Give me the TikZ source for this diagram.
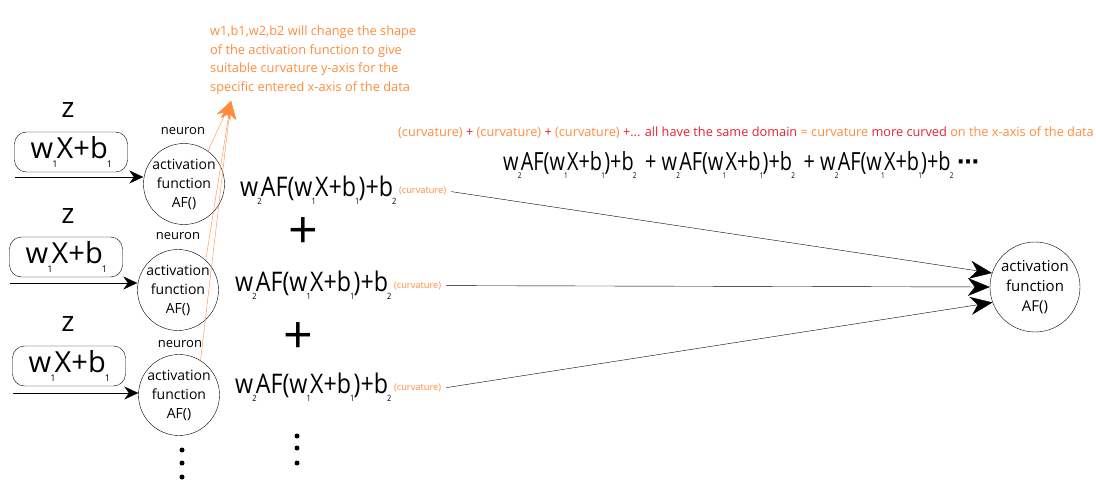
\documentclass[tikz,border=0pt]{standalone}
\usepackage{fontspec}
\usepackage{graphicx}
\setmainfont{Open Sans}
\newfontfamily\condfont[FakeStretch=0.795]{Open Sans}
\newfontfamily\midfont[FakeStretch=0.86]{Open Sans}
\newfontfamily\symf{DejaVu Sans}
\usetikzlibrary{arrows.meta}
\definecolor{orng}{RGB}{255,140,60}
\definecolor{rd}{RGB}{232,32,48}
\newcommand\lo[1]{\kern-0.03em\raisebox{-0.3em}{\scalebox{0.32}{#1}}\kern-0.03em}
\newcommand\myexpr{w\lo{2}AF(w\lo{1}X+b\lo{1})+b\lo{2}}
\newcommand\inexpr{w\lo{1}X+b\lo{1}}
\tikzset{
  fs/.style={font=\fontsize{#1}{#1}\selectfont},
  zlab/.style={fs=28, inner sep=0pt},
  inbox/.style={draw, rounded corners=12pt, minimum width=113pt, minimum height=40pt, inner sep=0pt, fs=29},
  neur/.style={draw, thin, circle, minimum size=80pt, inner sep=0pt, align=center, font=\fontsize{14}{19}\selectfont},
  nlab/.style={fs=13, inner sep=0pt},
  expr/.style={font=\fontsize{27}{27}\midfont, inner sep=0pt, anchor=west},
  curv/.style={fs=9.3, text=orng, inner sep=0pt, anchor=base west},
  inarrow/.style={-{Stealth[length=14pt,width=13pt]}, thin},
  outarrow/.style={-{Stealth[length=22pt,width=18pt,inset=7pt]}, thin},
  orarrow/.style={-{Stealth[length=18pt,width=15pt]}, orng, thin},
  bigplus/.style={fs=52, inner sep=0pt},
  dot/.style={fill, circle, inner sep=0pt, minimum size=5pt},
}
\begin{document}
\begin{tikzpicture}[x=1pt,y=-1pt]
\useasboundingbox (0,0) rectangle (1096,492);

% orange note
\node[anchor=north west, align=left, text=orng, font=\fontsize{12.8}{18.5}\selectfont, inner sep=0pt] (note) at (210,26)
  {w1,b1,w2,b2 will change the shape\\of the activation function to give\\suitable curvature y-axis for the\\specific entered x-axis of the data};
\coordinate (tip) at (231,101);

% top sentence
\node[anchor=west, inner sep=0pt, fs=12.75] (sent) at (398,133)
  {\textcolor{orng}{(curvature)} \textcolor{rd}{+} \textcolor{orng}{(curvature)} \textcolor{rd}{+} \textcolor{orng}{(curvature)} \textcolor{rd}{+... all have the same domain} \textcolor{orng}{= curvature} \textcolor{rd}{more curved} \textcolor{orng}{on the x-axis of the data}};

% top long expression
\node[expr, font=\fontsize{25}{25}\condfont] (sum) at (503,165) {\myexpr{}\, + \myexpr{}\, + \myexpr{}};
\node[anchor=west, inner sep=0pt, font=\fontsize{22}{22}\symf\bfseries] (ell) at ([xshift=4pt]sum.east) {⋯};

% inputs
\foreach \i/\y in {1/0,2/106,3/214}{
  \node[zlab] (z\i) at (68,110+\y) {z};
}
\node[inbox] (b1) at (71,152) {\inexpr};
\node[inbox] (b2) at (66,257) {\inexpr};
\node[inbox] (b3) at (69,366) {\inexpr};

\node[nlab] (nl1) at (183,131) {neuron};
\node[nlab] (nl2) at (178,236) {neuron};
\node[nlab] (nl3) at (180,344) {neuron};

\node[neur] (n1) at (184,184) {activation\\function\\AF()};
\node[neur] (n2) at (178,290) {activation\\function\\AF()};
\node[neur] (n3) at (179,395) {activation\\function\\AF()};

\coordinate (s1) at (15,177);
\coordinate (s2) at (10,283);
\coordinate (s3) at (13,393);
\draw[inarrow] (s1) -- (n1.west |- s1);
\draw[inarrow] (s2) -- (n2.west |- s2);
\draw[inarrow] (s3) -- (n3.west |- s3);

% orange arrows
\draw[orarrow] (n1.54) -- (tip);
\draw[orarrow] (n2.47) -- (tip);
\draw[orarrow] (n3.58) -- (tip);

% expressions
\node[expr] (e1) at (240,190) {\myexpr};
\node[expr] (e2) at (235,285) {\myexpr};
\node[expr] (e3) at (235,387) {\myexpr};
\node[curv] (c1) at ([shift={(3,-3)}]e1.base east) {(curvature)};
\node[curv] (c2) at ([shift={(3,-3)}]e2.base east) {(curvature)};
\node[curv] (c3) at ([shift={(3,-3)}]e3.base east) {(curvature)};

\node[bigplus] (p1) at (303,233) {+};
\node[bigplus] (p2) at (298,338) {+};

\node[dot] (d1) at (182,450) {};
\node[dot] (d2) at (182,463) {};
\node[dot] (d3) at (182,477) {};
\node[dot] (d4) at (297,436) {};
\node[dot] (d5) at (297,448) {};
\node[dot] (d6) at (297,463) {};

% output neuron
\node[neur, minimum size=90pt, font=\fontsize{15}{20}\selectfont] (r) at (1035,287) {activation\\function\\AF()};
\coordinate (o1) at ([shift={(5,1)}]c1.east);
\coordinate (o2) at ([shift={(5,0)}]c2.east);
\coordinate (o3) at ([shift={(5,0)}]c3.east);
\draw[outarrow] (o1) -- (r.162);
\draw[outarrow] (o2) -- (r.180);
\draw[outarrow] (o3) -- (r.200);
\end{tikzpicture}
\end{document}
